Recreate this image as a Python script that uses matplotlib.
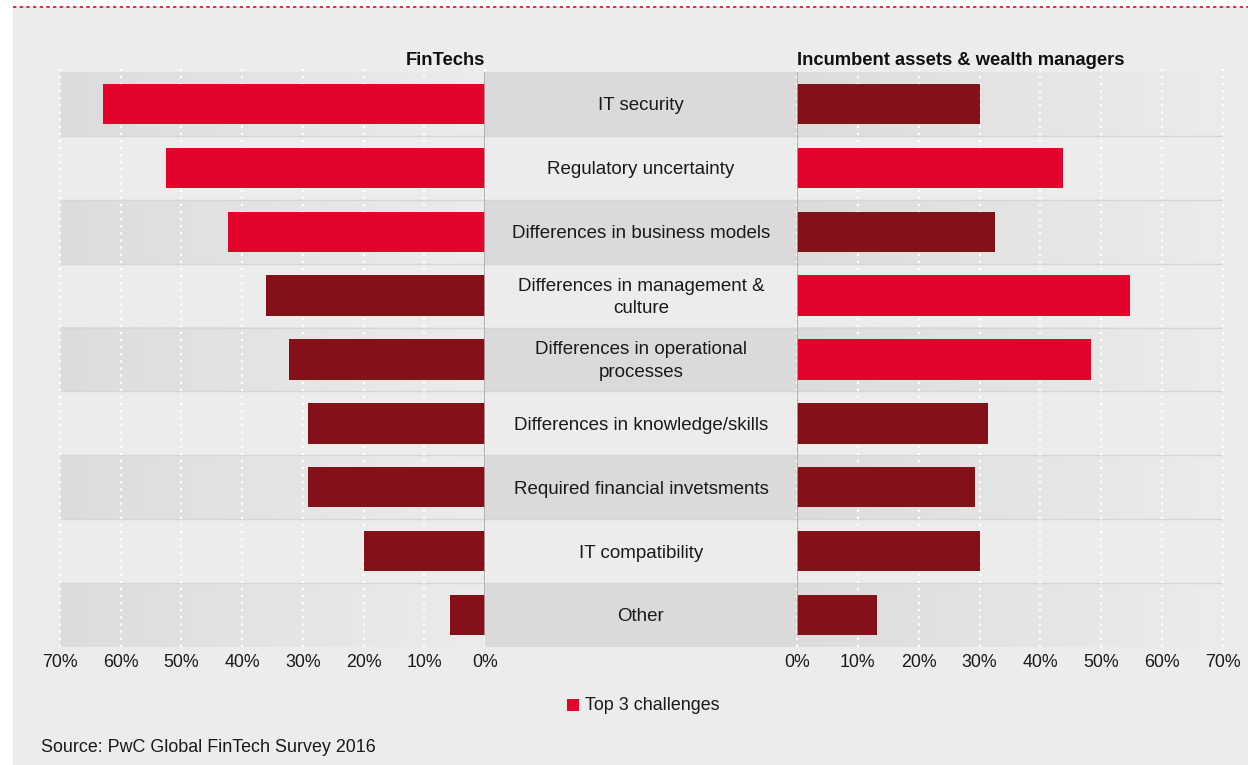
import numpy as np
import matplotlib.pyplot as plt
from matplotlib.patches import Rectangle
from matplotlib.colors import LinearSegmentedColormap

plt.rcParams['font.family'] = ['Liberation Sans', 'DejaVu Sans']

# data (percent of respondents)
categories = ['IT security', 'Regulatory uncertainty', 'Differences in business models',
              'Differences in management &\nculture', 'Differences in operational\nprocesses',
              'Differences in knowledge/skills', 'Required financial invetsments',
              'IT compatibility', 'Other']
fintech = [63, 52.5, 42.3, 36, 32.3, 29.2, 29.2, 20, 5.8]
incumbent = [30, 43.7, 32.5, 54.7, 48.3, 31.4, 29.2, 30.1, 13.1]
fintech_top3 = [True, True, True, False, False, False, False, False, False]
incumbent_top3 = [False, True, False, True, True, False, False, False, False]
ticks = [0, 10, 20, 30, 40, 50, 60, 70]
tick_labels = ['0%', '10%', '20%', '30%', '40%', '50%', '60%', '70%']

RED = '#e4032b'
DARK = '#84111a'
BG = '#ececec'
BAND = '#dadada'
SEP = '#ada29c'

W, H = 1248, 765
fig = plt.figure(figsize=(W / 100, H / 100), dpi=100, facecolor='white')

# page background and the red dotted rule on top
fig.patches.append(Rectangle((13 / W, 0), 1 - 13 / W, 1 - 7 / H, transform=fig.transFigure,
                             facecolor=BG, edgecolor='none', zorder=-10))
fig.add_artist(plt.Line2D([13 / W, 1], [1 - 7 / H, 1 - 7 / H], color='#e4032b',
                          lw=1.2, ls=(0, (2, 2)), transform=fig.transFigure))

def box(x0, x1, y0=72, y1=647):
    return [x0 / W, 1 - y1 / H, (x1 - x0) / W, (y1 - y0) / H]

axl = fig.add_axes(box(60, 485))
axc = fig.add_axes(box(485, 797))
axr = fig.add_axes(box(797, 1223))

n = len(categories)
ypos = np.arange(n)
cmap_l = LinearSegmentedColormap.from_list('l', [BG, '#dcdcdc'])
cmap_r = LinearSegmentedColormap.from_list('r', ['#dcdcdc', BG])
grad = np.linspace(0, 1, 256).reshape(1, -1)

for ax in (axl, axc, axr):
    ax.set_facecolor('none')
    for s in ax.spines.values():
        s.set_visible(False)
    ax.set_ylim(n - 0.5, -0.5)
    for i in range(n):
        if i % 2 == 0:
            if ax is axc:
                ax.axhspan(i - 0.5, i + 0.5, color=BAND, lw=0, zorder=0)
            else:
                cm = cmap_l if ax is axl else cmap_r
                ax.imshow(grad, extent=(0, 70, i + 0.5, i - 0.5), cmap=cm, aspect='auto',
                          zorder=0, interpolation='bilinear')
    for b in np.arange(0.5, n - 1, 1):
        ax.axhline(b, color='#d6d6d6', lw=1, zorder=0.5)

axc.set_xlim(0, 1)
axc.set_xticks([])
axc.set_yticks([])
for i, c in enumerate(categories):
    axc.text(0.5, i + 0.03, c, ha='center', va='center', fontsize=13.5, color='#1a1a1a',
             linespacing=1.45)

axl.set_xlim(70, 0)
axr.set_xlim(0, 70)
for ax, vals, top3 in ((axl, fintech, fintech_top3), (axr, incumbent, incumbent_top3)):
    ax.set_ylim(n - 0.5, -0.5)
    for t in ticks:
        ax.axvline(t, color='white', lw=1.6, ls=(0, (1, 2.2)), zorder=1,
                   ymin=0, ymax=1.005, clip_on=False)
    colors = [RED if t else DARK for t in top3]
    ax.barh(ypos, vals, height=0.63, color=colors, zorder=2)
    ax.axvline(0, color=SEP, lw=1.2, zorder=3, ymin=0.022, ymax=1)
    ax.set_yticks([])
    ax.set_xticks(ticks)
    ax.set_xticklabels(tick_labels, fontsize=12.8, color='#1a1a1a')
    ax.tick_params(axis='x', length=0, pad=5)

axl.text(0, -0.55, 'FinTechs', ha='right', va='bottom', fontsize=13.2, fontweight='bold',
         color='#111111')
axr.text(0, -0.55, 'Incumbent assets & wealth managers', ha='left', va='bottom', fontsize=13.2,
         fontweight='bold', color='#111111')

# legend
fig.patches.append(Rectangle((567 / W, 1 - 711 / H), 12 / W, 12 / H, transform=fig.transFigure,
                             facecolor=RED, edgecolor='none'))
fig.text(585 / W, 1 - 705 / H, 'Top 3 challenges', ha='left', va='center', fontsize=12.9,
         color='#1a1a1a')

fig.text(41 / W, 1 - 747 / H, 'Source: PwC Global FinTech Survey 2016', ha='left', va='center',
         fontsize=12.9, color='#1a1a1a')

fig.savefig('out.png', dpi=100, facecolor='white')
